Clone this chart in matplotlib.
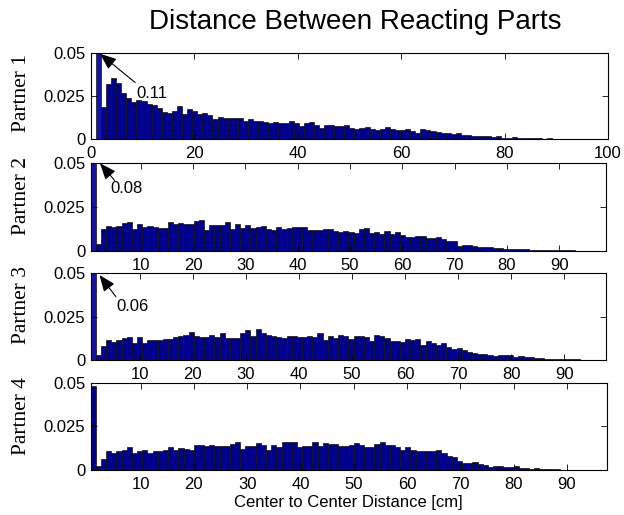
import numpy as np
import matplotlib
matplotlib.use("Agg")
import matplotlib.pyplot as plt

# ── DATA (normalised histogram heights, 100 bins per partner) ──────────
# first bin of partners 1-3 runs off the top of the axis; its true value
# is written next to the arrow
partner1 = [0.11, 0.0186, 0.0322, 0.0355, 0.0326, 0.0267, 0.0238, 0.0219, 0.0229, 0.0225,
            0.0204, 0.0200, 0.0180, 0.0161, 0.0151, 0.0167, 0.0194, 0.0145, 0.0176, 0.0165,
            0.0145, 0.0155, 0.0141, 0.0120, 0.0132, 0.0124, 0.0122, 0.0122, 0.0122, 0.0109,
            0.0116, 0.0107, 0.0105, 0.0099, 0.0093, 0.0103, 0.0095, 0.0097, 0.0105, 0.0095,
            0.0078, 0.0093, 0.0101, 0.0083, 0.0064, 0.0081, 0.0081, 0.0078, 0.0078, 0.0081,
            0.0068, 0.0062, 0.0066, 0.0074, 0.0062, 0.0054, 0.0062, 0.0072, 0.0060, 0.0056,
            0.0054, 0.0062, 0.0047, 0.0039, 0.0058, 0.0052, 0.0047, 0.0043, 0.0037, 0.0035,
            0.0029, 0.0035, 0.0027, 0.0023, 0.0021, 0.0017, 0.0019, 0.0017, 0.0014, 0.0017,
            0.0010, 0.0008, 0.0012, 0.0006, 0.0006, 0.0006, 0.0008, 0.0006, 0.0004, 0.0008,
            0.0002, 0.0003, 0.0002, 0.0003, 0.0002, 0.0002, 0.0003, 0.0001, 0.0001, 0.0001]

partner2 = [0.08, 0.0038, 0.0123, 0.0140, 0.0136, 0.0142, 0.0159, 0.0163, 0.0127, 0.0153,
            0.0136, 0.0144, 0.0134, 0.0129, 0.0131, 0.0163, 0.0155, 0.0157, 0.0153, 0.0152,
            0.0169, 0.0178, 0.0121, 0.0146, 0.0146, 0.0148, 0.0167, 0.0125, 0.0153, 0.0131,
            0.0148, 0.0133, 0.0136, 0.0140, 0.0123, 0.0117, 0.0138, 0.0123, 0.0131, 0.0138,
            0.0134, 0.0134, 0.0119, 0.0119, 0.0119, 0.0127, 0.0127, 0.0114, 0.0108, 0.0114,
            0.0108, 0.0102, 0.0123, 0.0129, 0.0102, 0.0108, 0.0098, 0.0112, 0.0095, 0.0110,
            0.0091, 0.0080, 0.0080, 0.0087, 0.0087, 0.0076, 0.0076, 0.0078, 0.0068, 0.0057,
            0.0055, 0.0028, 0.0036, 0.0032, 0.0027, 0.0023, 0.0025, 0.0021, 0.0019, 0.0017,
            0.0011, 0.0011, 0.0009, 0.0011, 0.0009, 0.0008, 0.0008, 0.0006, 0.0006, 0.0006,
            0.0008, 0.0004, 0.0003, 0.0003, 0.0002, 0.0002, 0.0002, 0.0001, 0.0001, 0.0001]

partner3 = [0.06, 0.0029, 0.0081, 0.0115, 0.0104, 0.0117, 0.0127, 0.0131, 0.0098, 0.0131,
            0.0100, 0.0113, 0.0113, 0.0117, 0.0121, 0.0121, 0.0135, 0.0137, 0.0144, 0.0162,
            0.0137, 0.0133, 0.0133, 0.0144, 0.0133, 0.0154, 0.0127, 0.0127, 0.0127, 0.0154,
            0.0173, 0.0138, 0.0177, 0.0156, 0.0144, 0.0138, 0.0135, 0.0125, 0.0137, 0.0137,
            0.0135, 0.0133, 0.0137, 0.0131, 0.0154, 0.0117, 0.0137, 0.0129, 0.0142, 0.0137,
            0.0121, 0.0140, 0.0140, 0.0133, 0.0112, 0.0144, 0.0137, 0.0125, 0.0112, 0.0110,
            0.0104, 0.0121, 0.0113, 0.0119, 0.0088, 0.0110, 0.0096, 0.0087, 0.0098, 0.0073,
            0.0065, 0.0071, 0.0056, 0.0048, 0.0040, 0.0037, 0.0035, 0.0031, 0.0025, 0.0031,
            0.0027, 0.0027, 0.0017, 0.0023, 0.0019, 0.0015, 0.0012, 0.0012, 0.0008, 0.0008,
            0.0006, 0.0006, 0.0004, 0.0003, 0.0003, 0.0002, 0.0002, 0.0001, 0.0001, 0.0001]

partner4 = [0.048, 0.0025, 0.0065, 0.0106, 0.0100, 0.0108, 0.0112, 0.0131, 0.0096, 0.0108,
            0.0112, 0.0100, 0.0110, 0.0110, 0.0115, 0.0133, 0.0117, 0.0127, 0.0121, 0.0115,
            0.0142, 0.0144, 0.0137, 0.0146, 0.0137, 0.0140, 0.0137, 0.0150, 0.0160, 0.0121,
            0.0140, 0.0140, 0.0154, 0.0146, 0.0117, 0.0142, 0.0129, 0.0162, 0.0160, 0.0158,
            0.0131, 0.0140, 0.0140, 0.0163, 0.0135, 0.0156, 0.0150, 0.0148, 0.0137, 0.0137,
            0.0144, 0.0152, 0.0144, 0.0129, 0.0133, 0.0148, 0.0162, 0.0142, 0.0146, 0.0133,
            0.0117, 0.0133, 0.0112, 0.0106, 0.0110, 0.0108, 0.0110, 0.0115, 0.0100, 0.0079,
            0.0073, 0.0054, 0.0038, 0.0038, 0.0044, 0.0035, 0.0029, 0.0019, 0.0023, 0.0021,
            0.0019, 0.0019, 0.0023, 0.0010, 0.0012, 0.0008, 0.0010, 0.0006, 0.0008, 0.0004,
            0.0006, 0.0002, 0.0002, 0.0002, 0.0001, 0.0001, 0.0001, 0.0001, 0.0001, 0.0001]

# data range of each partner (histogram spans it with 100 bins)
ranges = [(1.0, 99.0), (0.43, 98.96), (0.75, 97.9), (0.62, 97.45)]
xlims = [(0, 100), (0.43, 98.96), (0.75, 97.9), (0.62, 97.45)]
xticks_p1 = [0, 20, 40, 60, 80, 100]
xticks_rest = [10, 20, 30, 40, 50, 60, 70, 80, 90]
yticks = [0, 0.025, 0.05]
ytick_labels = ["0", "0.025", "0.05"]
ylabels = ["Partner 1", "Partner 2", "Partner 3", "Partner 4"]
# (arrow tip, arrow tail, text position) in data coords, text = first bin value
arrows = [((1.8, 0.0497), (8.6, 0.0330), (8.9, 0.0267)),
          ((2.2, 0.0497), (5.0, 0.0400), (4.1, 0.0355)),
          ((2.4, 0.0490), (5.5, 0.0365), (5.5, 0.0307))]

BAR = "#00008C"
BAR_CLIP = "#1414A8"
EDGE = "#111111"

W, H = 624, 515
# axes boxes in pixels: left, top, right, bottom
boxes = [(90.7, 53.3, 608, 139.3),
         (90.7, 162.7, 606, 251),
         (90.7, 273.3, 606, 360),
         (90.7, 382.7, 606.5, 470)]
ylab_y = [93, 196, 305, 416]

plt.rcParams["font.family"] = ["Liberation Sans", "DejaVu Sans"]

fig = plt.figure(figsize=(W / 100, H / 100), dpi=100)
data = [partner1, partner2, partner3, partner4]
axes = []
for i, vals in enumerate(data):
    l, t, r, b = boxes[i]
    ax = fig.add_axes([l / W, 1 - b / H, (r - l) / W, (b - t) / H])
    axes.append(ax)
    vals = np.array(vals)
    lo, hi = ranges[i]
    edges = np.linspace(lo, hi, len(vals) + 1)
    width = edges[1] - edges[0]
    colors = [BAR_CLIP if v > 0.05 else BAR for v in vals]
    ax.bar(edges[:-1], vals, width=width, align="edge", color=colors,
           edgecolor=EDGE, linewidth=0.5)
    ax.set_xlim(*xlims[i])
    ax.set_ylim(0, 0.05)
    ax.set_xticks(xticks_p1 if i == 0 else xticks_rest)
    ax.set_yticks(yticks)
    ax.set_yticklabels(ytick_labels)
    ax.tick_params(direction="in", top=True, right=True, length=4,
                   width=0.6, labelsize=12, pad=4)
    ax.tick_params(axis="x", pad=5)
    for sp in ax.spines.values():
        sp.set_linewidth(0.8)
    fig.text(21.5 / W, 1 - ylab_y[i] / H, ylabels[i], rotation=90,
             ha="center", va="center", fontsize=15.5, family="Liberation Serif")

for i, (tip, tail, txt) in enumerate(arrows):
    ax = axes[i]
    ax.annotate("", xy=tip, xytext=tail,
                arrowprops=dict(arrowstyle="-|>,head_length=1.0,head_width=0.4",
                                color="black", lw=0.8, shrinkA=0, shrinkB=0),
                annotation_clip=False)
    ax.text(txt[0], txt[1], f"{data[i][0]:.2f}", fontsize=12,
            ha="left", va="center")

axes[3].set_xlabel("Center to Center Distance [cm]", fontsize=12, labelpad=2)
fig.text(355 / W, 1 - 22 / H, "Distance Between Reacting Parts",
         ha="center", va="center", fontsize=20)

fig.savefig("out.png", dpi=100, facecolor="white")
